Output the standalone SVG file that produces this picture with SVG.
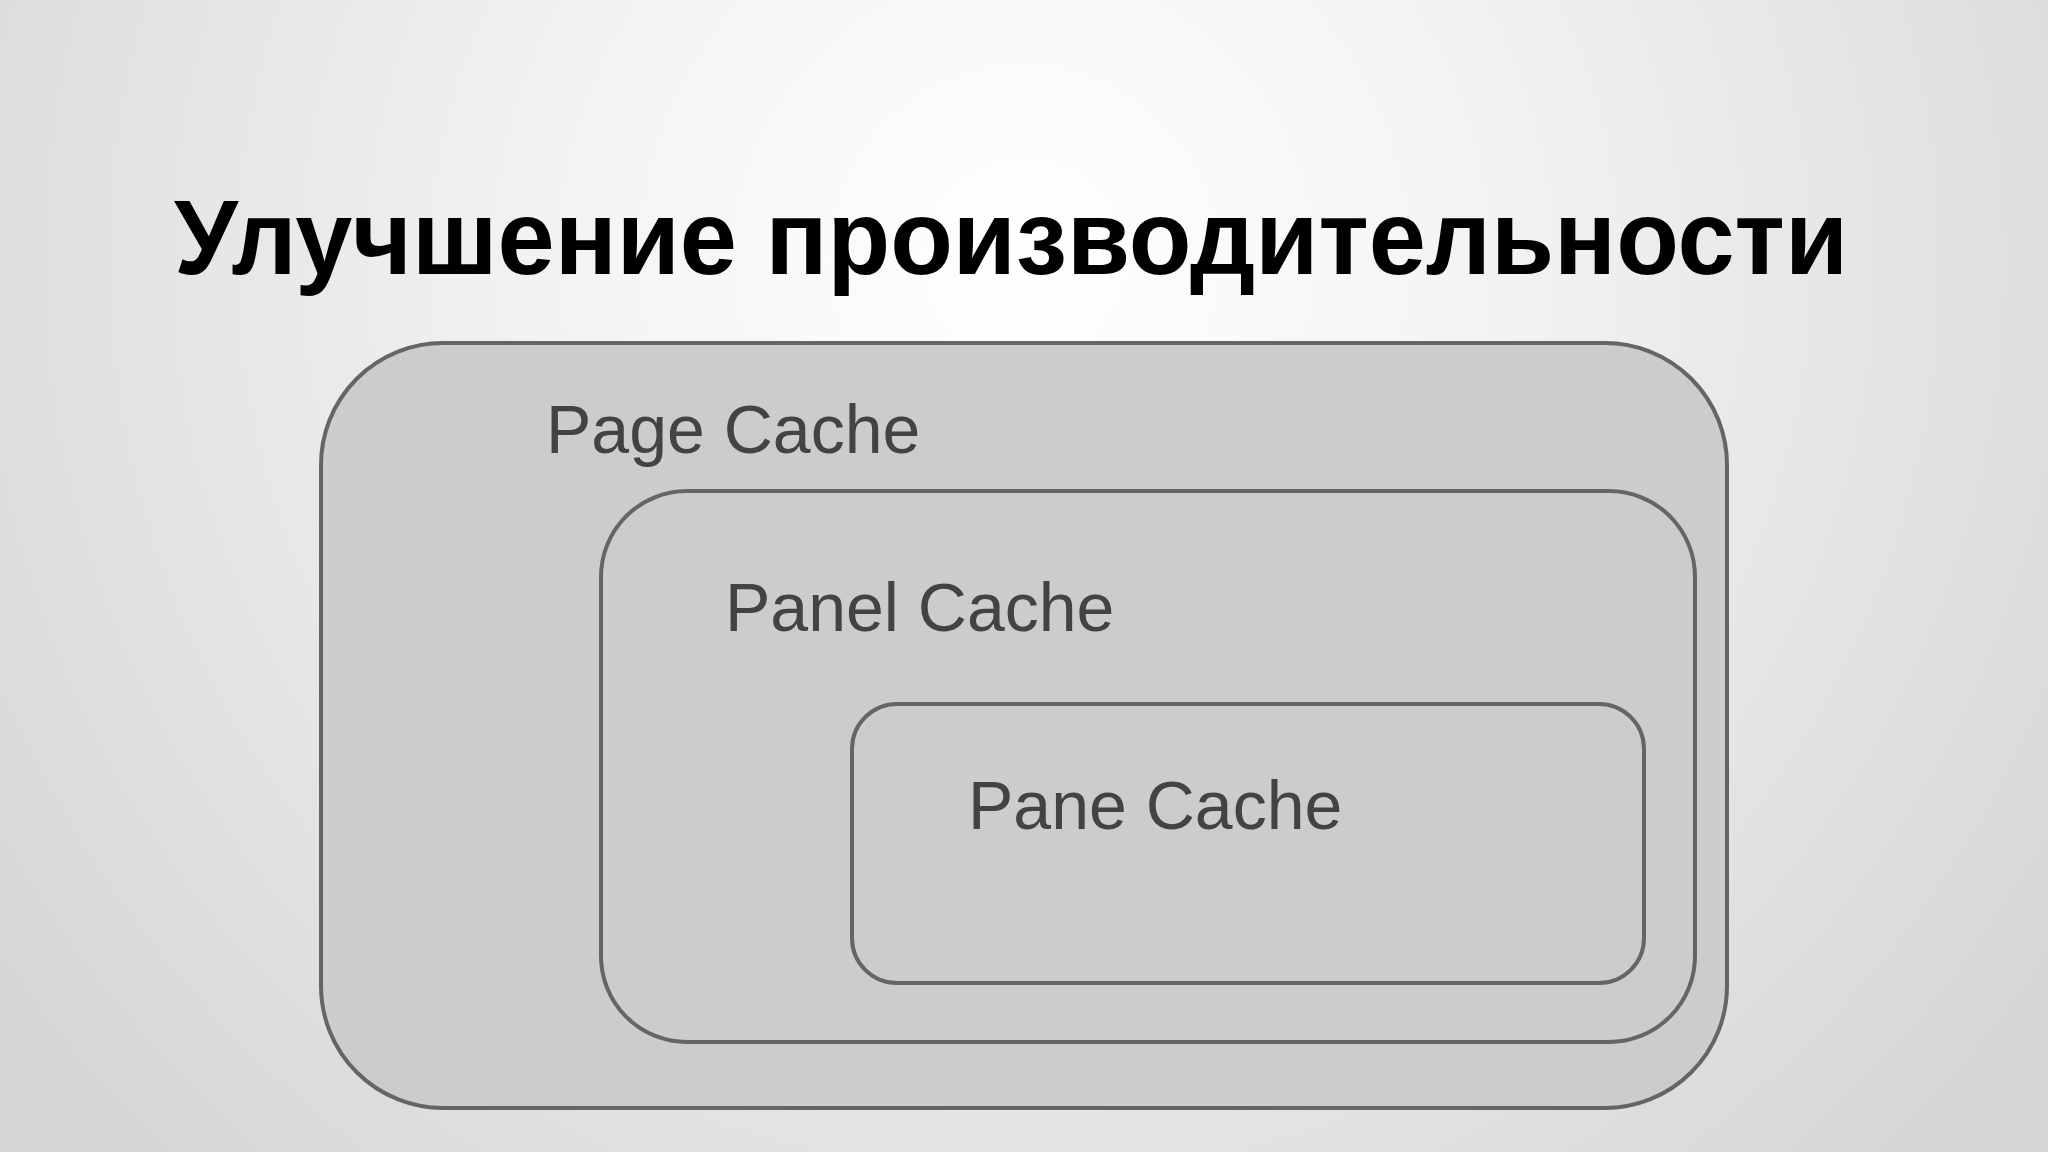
<svg xmlns="http://www.w3.org/2000/svg" width="2048" height="1152" viewBox="0 0 2048 1152">
  <defs>
    <radialGradient id="bg" gradientUnits="userSpaceOnUse" cx="1024" cy="260" r="1250">
      <stop offset="0" stop-color="#ffffff"/>
      <stop offset="0.35" stop-color="#f4f4f4"/>
      <stop offset="1" stop-color="#d6d6d6"/>
    </radialGradient>
  </defs>
  <style>
    .box { fill: #cccccc; stroke: #656565; stroke-width: 4; }
    .label { font-family: "Liberation Sans", Arial, sans-serif; font-size: 68px; fill: #434343; }
    .title { font-family: "Liberation Sans", Arial, sans-serif; font-size: 105px; font-weight: bold; fill: #000000; }
  </style>
  <rect x="0" y="0" width="2048" height="1152" fill="url(#bg)"/>
  <text class="title" x="1011" y="274" text-anchor="middle" textLength="1674" lengthAdjust="spacingAndGlyphs">Улучшение производительности</text>
  <g id="page-cache">
    <rect class="box" x="321" y="343" width="1406" height="765" rx="122" ry="122"/>
    <text class="label" x="546" y="453">Page Cache</text>
  </g>
  <g id="panel-cache">
    <rect class="box" x="601" y="491" width="1094" height="551" rx="86" ry="86"/>
    <text class="label" x="725" y="631">Panel Cache</text>
  </g>
  <g id="pane-cache">
    <rect class="box" x="852" y="704" width="792" height="279" rx="45" ry="45"/>
    <text class="label" x="968" y="829">Pane Cache</text>
  </g>
  <g id="connectors"></g>
</svg>
